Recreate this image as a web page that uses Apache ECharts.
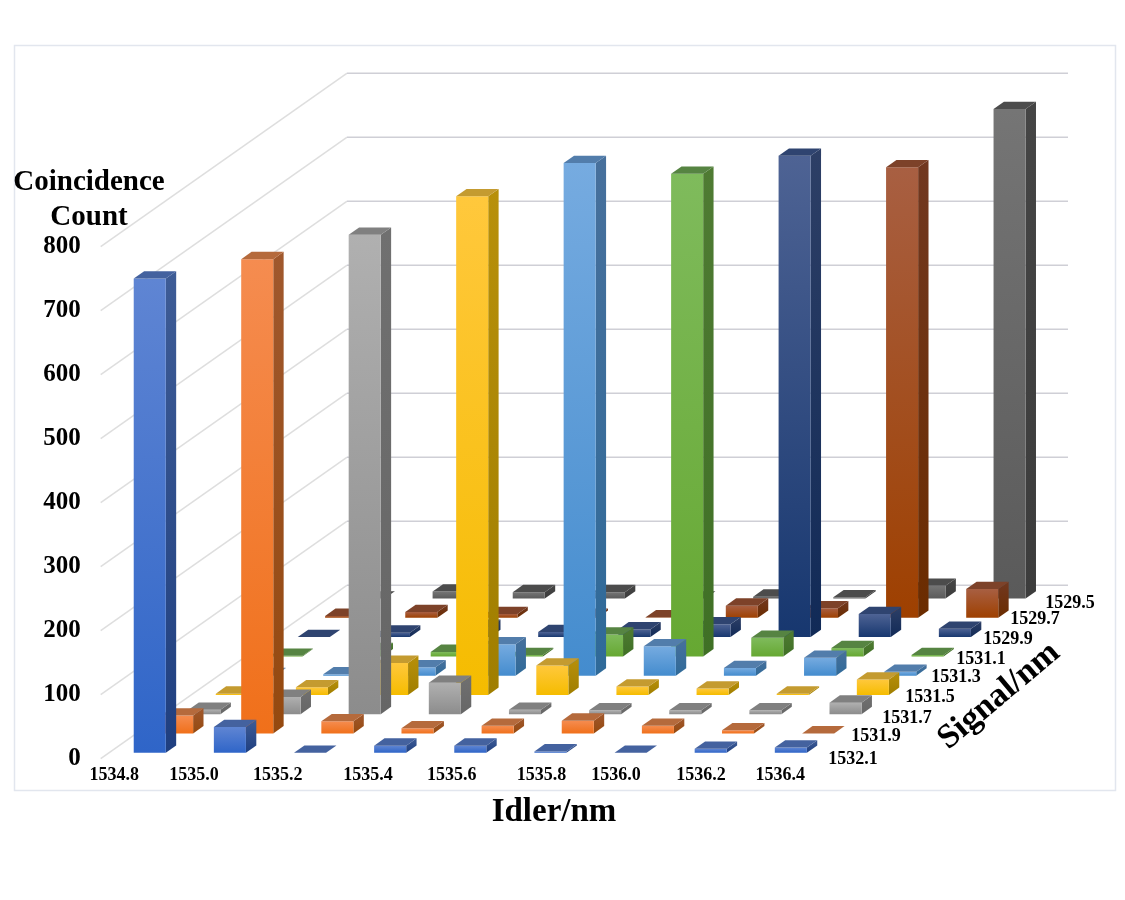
<!DOCTYPE html>
<html>
<head>
<meta charset="utf-8">
<style>html,body{margin:0;padding:0;background:#fff}#chart{width:1125px;height:900px}</style>
<script src="https://cdn.jsdelivr.net/npm/echarts@6/dist/echarts.min.js"></script>
</head>
<body>
<div id="chart"></div>
<script>
// Idler wavelengths run along the floor, signal wavelengths run into the depth.
const idlers = ['1534.8','1535.0','1535.2','1535.4','1535.6','1535.8','1536.0','1536.2','1536.4'];
const signals = ['1532.1','1531.9','1531.7','1531.5','1531.3','1531.1','1529.9','1529.7','1529.5'];
const yTicks = [0,100,200,300,400,500,600,700,800];

// Coincidence counts, one list per signal wavelength, front row first.
const counts1532_1 = [741,40,0,11,11,2,0,6,8];
const counts1531_9 = [28,741,19,8,12,20,12,5,0];
const counts1531_7 = [7,27,749,49,7,6,6,6,18];
const counts1531_5 = [2,12,50,779,46,13,10,2,24];
const counts1531_3 = [1,2,13,49,801,46,12,28,6];
const counts1531_1 = [1,10,7,2,34,754,29,13,2];
const counts1529_9 = [0,7,16,8,12,20,752,36,13];
const counts1529_7 = [3,9,6,3,1,19,15,704,45];
const counts1529_5 = [0,11,10,10,0,3,2,20,765];
const rows = [counts1532_1,counts1531_9,counts1531_7,counts1531_5,counts1531_3,counts1531_1,counts1529_9,counts1529_7,counts1529_5];

// Face colours per row: front top, front bottom, side top, side bottom, top face.
const faces = [
  ['#5F85D3','#2F65C8','#3E5C96','#1F3F80','#44629F'],
  ['#F58C50','#F0701A','#A0582D','#95490F','#B56A3C'],
  ['#B0B0B0','#8C8C8C','#707070','#666666','#808080'],
  ['#FFC83C','#F5BC00','#B8900A','#A07E00','#C49B30'],
  ['#76ABE0','#448CCE','#47709C','#2F6A99','#527DAB'],
  ['#7FBB5C','#66A832','#4F7B33','#3F7025','#568442'],
  ['#4E6394','#17376F','#2D3F66','#112A57','#2F4470'],
  ['#A85F42','#9E4000','#713820','#6B2C00','#7D4229'],
  ['#757575','#5A5A5A','#454545','#3C3C3C','#4C4C4C']
];

// Oblique projection: one row of depth moves a point right and up in axis units.
const rowDx = 0.3412;
const rowDy = 30.1;
const rowCount = signals.length;
const xMax = idlers.length + rowCount * rowDx;
const yMax = 800 + rowCount * rowDy;

const barStart = 0.306, barWidth = 0.40;
const depthStart = 0.311, depthSize = 0.38;

// Where the idler tick labels sit, in axis units.
const idlerTickPos = [0.17,1.165,2.21,3.335,4.38,5.5,6.43,7.49,8.48];
// Signal labels: centre pixel of each text, front row first.
const signalLabelX = [853,876,907,930,956,981,1008,1035,1070];
const signalLabelY = [759,736,718,697,677,659,639,619,603];

const SERIF = '"Liberation Serif","Times New Roman",serif';

function project(api, cell, depth, value) {
  return api.coord([cell + depth * rowDx, value + depth * rowDy]);
}

function renderBar(row) {
  return function (params, api) {
    const i = api.value(0), v = api.value(1);
    const x0 = i + barStart, x1 = x0 + barWidth;
    const d0 = row + depthStart, d1 = d0 + depthSize;
    const c = faces[row];
    const fBL = project(api, x0, d0, 0), fBR = project(api, x1, d0, 0);
    const fTL = project(api, x0, d0, v), fTR = project(api, x1, d0, v);
    const bBR = project(api, x1, d1, 0);
    const bTL = project(api, x0, d1, v), bTR = project(api, x1, d1, v);
    const children = [];
    if (v > 0) {
      children.push({
        type: 'polygon',
        shape: { points: [fBR, bBR, bTR, fTR] },
        style: { fill: new echarts.graphic.LinearGradient(0, 0, 0, 1, [
          { offset: 0, color: c[2] }, { offset: 1, color: c[3] }]) }
      });
      children.push({
        type: 'polygon',
        shape: { points: [fBL, fBR, fTR, fTL] },
        style: { fill: new echarts.graphic.LinearGradient(0, 0, 0, 1, [
          { offset: 0, color: c[0] }, { offset: 1, color: c[1] }]) }
      });
    }
    children.push({
      type: 'polygon',
      shape: { points: [fTL, fTR, bTR, bTL] },
      style: { fill: c[4] }
    });
    return { type: 'group', children: children };
  };
}

// Left wall diagonal plus back wall line for one value tick.
function renderGridLine(params, api) {
  const v = api.value(0);
  const corner = project(api, 0, rowCount, v);
  return {
    type: 'group',
    children: [{
      type: 'line',
      shape: { x1: api.coord([0, v])[0], y1: api.coord([0, v])[1], x2: corner[0], y2: corner[1] },
      style: { stroke: '#DEDEDE', lineWidth: 1.5 }
    }, {
      type: 'polyline',
      shape: { points: [corner, project(api, idlers.length, rowCount, v)] },
      style: { fill: null, stroke: '#CFCFD6', lineWidth: 1.5 }
    }]
  };
}

const series = [{
  type: 'custom',
  name: 'walls',
  coordinateSystem: 'cartesian2d',
  renderItem: renderGridLine,
  data: yTicks.map(v => [v]),
  encode: { x: [], y: 0 },
  silent: true,
  z: 1
}];
// Back rows are added first so nearer bars paint over them.
for (let r = rowCount - 1; r >= 0; r--) {
  series.push({
    type: 'custom',
    name: signals[r],
    coordinateSystem: 'cartesian2d',
    renderItem: renderBar(r),
    data: rows[r].map((v, i) => [i, v]),
    encode: { x: 0, y: 1 },
    silent: true,
    z: 2 + (rowCount - r)
  });
}

const textStyle = (size) => ({ font: 'bold ' + size + 'px ' + SERIF, fill: '#000', textAlign: 'center', textVerticalAlign: 'middle' });
const graphics = [
  { type: 'rect', z: -1, shape: { x: 14.5, y: 45.5, width: 1101, height: 745 }, style: { fill: '#fff', stroke: '#E2E6EE', lineWidth: 1.5 } },
  { type: 'text', x: 89, y: 183, style: Object.assign({ text: 'Coincidence' }, textStyle(29)), z: 50 },
  { type: 'text', x: 89, y: 218, style: Object.assign({ text: 'Count' }, textStyle(29)), z: 50 },
  { type: 'text', x: 554, y: 812, style: Object.assign({ text: 'Idler/nm' }, textStyle(33)), z: 50 },
  { type: 'text', x: 999, y: 696, rotation: 40 * Math.PI / 180, style: Object.assign({ text: 'Signal/nm' }, textStyle(34)), z: 50 }
];
signals.forEach((s, i) => {
  graphics.push({ type: 'text', x: signalLabelX[i], y: signalLabelY[i], z: 50,
    style: Object.assign({ text: s }, textStyle(18)) });
});

const chart = echarts.init(document.getElementById('chart'), null, { renderer: 'canvas' });
chart.setOption({
  animation: false,
  backgroundColor: '#fff',
  grid: { left: 100.7, top: 73.3, width: 967.3, height: 685.4, containLabel: false },
  xAxis: {
    type: 'value', min: 0, max: xMax,
    axisLine: { show: false }, axisTick: { show: false }, splitLine: { show: false },
    axisLabel: {
      customValues: idlerTickPos,
      margin: 8,
      hideOverlap: false,
      color: '#000',
      fontFamily: SERIF, fontWeight: 'bold', fontSize: 18,
      formatter: function (v) { return idlers[idlerTickPos.indexOf(v)] || ''; }
    }
  },
  yAxis: {
    type: 'value', min: 0, max: yMax,
    axisLine: { show: false }, axisTick: { show: false }, splitLine: { show: false },
    axisLabel: {
      customValues: yTicks,
      margin: 20,
      padding: [4, 0, 0, 0],
      verticalAlign: 'middle',
      lineHeight: 25,
      color: '#000',
      fontFamily: SERIF, fontWeight: 'bold', fontSize: 25
    }
  },
  graphic: graphics,
  series: series
});
</script>
</body>
</html>
